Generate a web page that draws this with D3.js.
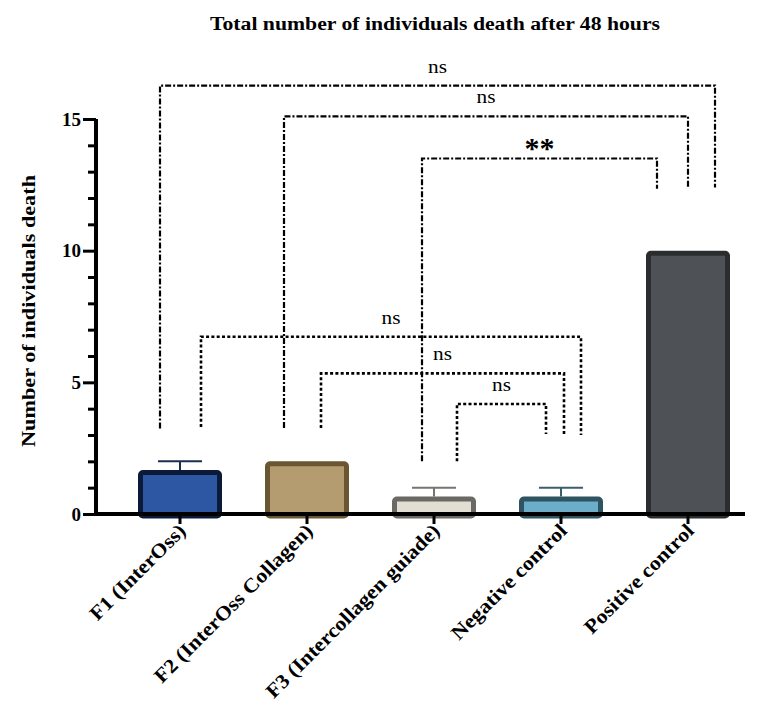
<!DOCTYPE html>
<html>
<head>
<meta charset="utf-8">
<script src="https://cdn.jsdelivr.net/npm/d3@7"></script>
<style>
  html, body { margin: 0; padding: 0; background: #ffffff; }
  svg { display: block; }
  text { font-family: "Liberation Serif", "Times New Roman", serif; fill: #000; }
</style>
</head>
<body>
<svg id="chart" width="762" height="713"></svg>
<script>
// ---- data ----
const categories = ["F1 (InterOss)", "F2 (InterOss Collagen)", "F3 (Intercollagen guiade)", "Negative control", "Positive control"];
const meanDeaths = [1.667, 2, 0.667, 0.667, 10];
const errorDeaths = [0.333, 0, 0.333, 0.333, 0];
const yMajorTicks = [0, 5, 10, 15];
const yMinorTicks = [1, 2, 3, 4, 6, 7, 8, 9, 11, 12, 13, 14];

// pairwise comparisons (indices into categories)
const compFrom = [0, 1, 2, 0, 1, 2];
const compTo = [4, 4, 4, 3, 3, 3];
const compLabels = ["ns", "ns", "**", "ns", "ns", "ns"];
const compLevels = [16.27, 15.1, 13.5, 6.73, 5.34, 4.18];
const compFromEnds = [3.25, 3.27, 2.0, 3.3, 3.27, 2.0];
const compToEnds = [12.4, 12.4, 12.35, 3.0, 3.0, 3.04];

// ---- styling ----
const fills = ["#2d57a2", "#b59b70", "#e2ded3", "#6cadc9", "#4e5156"];
const borders = ["#0c1a3a", "#6b5634", "#6a6964", "#2f5360", "#2b2c2e"];
const errColors = ["#1c2e50", "#6b5634", "#77756f", "#3b5f6a", "#2b2c2e"];
// horizontal offsets (px) of bracket legs from the bar centres
const legShiftFrom = [-20, -23, -12, 21, 14, 23];
const legShiftTo = [27, 0, -31, 20, 3, -15];
const compDash = ["6,2,2,2", "6,2,2,2", "6,2,2,2", "3,2.3", "3,2.3", "3,2.3"];

const svg = d3.select("#chart");

const x = d3.scaleBand().domain(categories).range([116.5, 751.5]).padding(0);
const y = d3.scaleLinear().domain([0, 15]).range([514, 119]);
const cx = c => x(c) + x.bandwidth() / 2;

const barW = 84, bsw = 5;

// widen a text element relative to its natural width
function stretch(sel, k) {
  const w = sel.node().getComputedTextLength();
  sel.attr("textLength", w * k).attr("lengthAdjust", "spacingAndGlyphs");
  return sel;
}

// title
svg.append("text")
  .attr("x", 435).attr("y", 30)
  .attr("text-anchor", "middle")
  .attr("font-size", 18.5).attr("font-weight", "bold")
  .attr("textLength", 450).attr("lengthAdjust", "spacingAndGlyphs")
  .text("Total number of individuals death after 48 hours");

// y-axis label
svg.append("text")
  .attr("transform", "translate(35,311) rotate(-90)")
  .attr("text-anchor", "middle")
  .attr("font-size", 19.5).attr("font-weight", "bold")
  .attr("textLength", 272).attr("lengthAdjust", "spacingAndGlyphs")
  .text("Number of individuals death");

// bars
const bars = svg.append("g");
categories.forEach((c, i) => {
  const top = y(meanDeaths[i]);
  bars.append("rect")
    .attr("x", cx(c) - barW / 2 + bsw / 2)
    .attr("y", top + bsw / 2)
    .attr("width", barW - bsw)
    .attr("height", y(0) - top - bsw / 2 + 2)
    .attr("rx", 2.5)
    .attr("fill", fills[i])
    .attr("stroke", borders[i])
    .attr("stroke-width", bsw);
  if (errorDeaths[i] > 0) {
    const e = bars.append("g").attr("stroke", errColors[i]).attr("stroke-width", 2);
    e.append("line").attr("x1", cx(c)).attr("x2", cx(c))
      .attr("y1", top).attr("y2", y(meanDeaths[i] + errorDeaths[i]));
    e.append("line").attr("x1", cx(c) - 22).attr("x2", cx(c) + 22)
      .attr("y1", y(meanDeaths[i] + errorDeaths[i])).attr("y2", y(meanDeaths[i] + errorDeaths[i]));
  }
});

// y axis with major and minor ticks
const yAxisG = svg.append("g").attr("transform", "translate(96,0)");
yAxisG.call(d3.axisLeft(y).tickValues(yMajorTicks).tickSize(13).tickSizeOuter(0).tickPadding(2).tickFormat(d3.format("d")));
const yMinorG = svg.append("g").attr("transform", "translate(96,0)");
yMinorG.call(d3.axisLeft(y).tickValues(yMinorTicks).tickSize(8).tickSizeOuter(0).tickFormat(""));
yMinorG.select(".domain").remove();
[yAxisG, yMinorG].forEach(g => {
  g.selectAll(".tick line").attr("stroke", "#000").attr("stroke-width", 3);
});
yAxisG.select(".domain").attr("stroke", "#000").attr("stroke-width", 4)
  .attr("d", `M0,${y(15)}V${y(0) + 2}`);
yAxisG.selectAll(".tick text")
  .attr("font-size", 19).attr("font-weight", "bold")
  .attr("font-family", "'Liberation Serif', serif").attr("fill", "#000");

// x axis
const xAxisG = svg.append("g").attr("transform", `translate(0,${y(0)})`);
xAxisG.call(d3.axisBottom(x).tickSize(10).tickSizeOuter(0).tickFormat(""));
xAxisG.select(".domain").attr("stroke", "#000").attr("stroke-width", 4).attr("d", "M94,0H745");
xAxisG.selectAll(".tick line").attr("stroke", "#000").attr("stroke-width", 3);

// rotated category labels
categories.forEach(c => {
  const t = svg.append("text")
    .attr("transform", `translate(${cx(c) + 7},${532}) rotate(-45)`)
    .attr("text-anchor", "end")
    .attr("font-size", 20).attr("font-weight", "bold")
    .text(c);
  stretch(t, 1.1);
});

// significance brackets
const brk = svg.append("g");
compFrom.forEach((a, k) => {
  const x1 = cx(categories[a]) + legShiftFrom[k];
  const x2 = cx(categories[compTo[k]]) + legShiftTo[k];
  const yl = y(compLevels[k]);
  brk.append("path")
    .attr("d", `M${x1},${y(compFromEnds[k])}V${yl}H${x2}V${y(compToEnds[k])}`)
    .attr("fill", "none").attr("stroke", "#000")
    .attr("stroke-width", k < 3 ? 2.2 : 2.6)
    .attr("stroke-dasharray", compDash[k]);
  const star = compLabels[k] !== "ns";
  const t = brk.append("text")
    .attr("x", (x1 + x2) / 2)
    .attr("y", star ? yl - 1 : yl - 13)
    .attr("text-anchor", "middle")
    .attr("font-size", star ? 30 : 19)
    .attr("font-weight", star ? "bold" : "normal")
    .text(compLabels[k]);
  if (!star) stretch(t, 1.12);
});
</script>
</body>
</html>
